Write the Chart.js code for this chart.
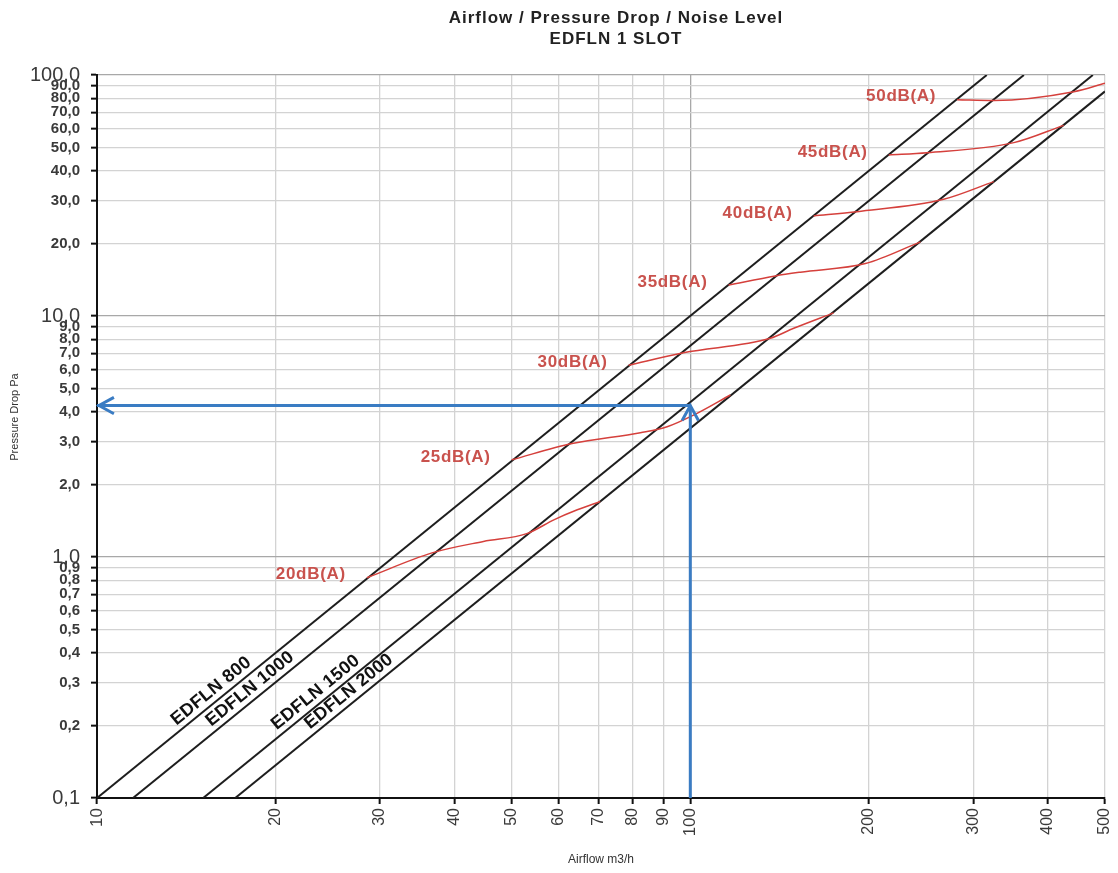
<!DOCTYPE html>
<html>
<head>
<meta charset="utf-8">
<title>Airflow / Pressure Drop / Noise Level</title>
<script src="https://cdn.jsdelivr.net/npm/chart.js@4/dist/chart.umd.min.js"></script>
<style>
    html, body { margin: 0; padding: 0; background: #fff; }
    #wrap { width: 1118px; height: 873px; }
</style>
</head>
<body>
<div id="wrap"><canvas id="chart" width="1118" height="873"></canvas></div>
<script>
// AXIS TICKS
const xTicks = [10, 20, 30, 40, 50, 60, 70, 80, 90, 100, 200, 300, 400, 500];
const yTicks = [0.1, 0.2, 0.3, 0.4, 0.5, 0.6, 0.7, 0.8, 0.9, 1, 2, 3, 4, 5, 6, 7, 8, 9,
                10, 20, 30, 40, 50, 60, 70, 80, 90, 100];

// EDFLN units: straight lines, start / end
const unitNames = ['EDFLN 800', 'EDFLN 1000', 'EDFLN 1500', 'EDFLN 2000'];
const unitFlow = [[10, 316], [11.5, 365], [15.1, 477], [17.1, 500]];
const unitDrop = [[0.1, 100], [0.1, 100], [0.1, 100], [0.1, 85.5]];
const unitLabelAt = [16.0, 18.6, 24.0, 27.3]; // airflow where the name sits

// NOISE CURVES
const noiseNames = ['20dB(A)', '25dB(A)', '30dB(A)', '35dB(A)', '40dB(A)', '45dB(A)', '50dB(A)'];
const noiseFlow = [
    [28.5, 36.7, 44.8, 53.0, 59.0, 64.5, 70.5],
    [50.0, 63.2, 82.4, 91.4, 101.3, 116.8],
    [78.7, 97.4, 136.4, 149.4, 174.4],
    [116.0, 139.1, 153.3, 197.3, 244.3],
    [161.4, 191.0, 267.4, 324.7],
    [216.0, 250.6, 351.0, 426.1],
    [281.7, 324.7, 443.1, 500]
];
const noiseDrop = [
    [0.82, 1.04, 1.16, 1.25, 1.43, 1.57, 1.70],
    [2.53, 2.96, 3.28, 3.47, 3.88, 4.70],
    [6.25, 7.04, 8.08, 8.89, 10.3],
    [13.45, 14.66, 15.2, 16.5, 20.3],
    [26.0, 27.1, 30.5, 36.1],
    [46.6, 47.6, 52.4, 61.8],
    [79.0, 78.4, 85.2, 92.4]
];

// example reading (blue arrows)
const pickFlow = 100;
const pickDrop = 4.25;

const FONT = '"Liberation Sans", Arial, sans-serif';
const RED = '#d5403c';
const BLUE = '#3a7cc3';

const isDecade = v => Math.abs(Math.log10(v) - Math.round(Math.log10(v))) < 1e-6;
const pts = (xs, ys) => xs.map((x, i) => ({ x: x, y: ys[i] }));

const datasets = [];
datasets.push({ data: [{ x: pickFlow, y: 0.1 }, { x: pickFlow, y: pickDrop }], borderColor: BLUE, borderWidth: 3, order: 0, role: 'up' });
datasets.push({ data: [{ x: pickFlow, y: pickDrop }, { x: 10, y: pickDrop }], borderColor: BLUE, borderWidth: 3, order: 0, role: 'left' });
noiseNames.forEach((name, i) => {
    datasets.push({ data: pts(noiseFlow[i], noiseDrop[i]), borderColor: RED, borderWidth: 1.5,
        cubicInterpolationMode: 'monotone', order: 1, role: 'noise', name: name });
});
unitNames.forEach((name, i) => {
    datasets.push({ data: pts(unitFlow[i], unitDrop[i]), borderColor: '#1e1e1e', borderWidth: 2,
        order: 2, role: 'unit', name: name, labelAt: unitLabelAt[i] });
});

function chevron(ctx, x, y, dir, len, half) {
    ctx.beginPath();
    ctx.moveTo(x + len * Math.cos(dir + half), y + len * Math.sin(dir + half));
    ctx.lineTo(x, y);
    ctx.lineTo(x + len * Math.cos(dir - half), y + len * Math.sin(dir - half));
    ctx.stroke();
}

const decorations = {
    id: 'decorations',
    beforeDraw(chart) {
        const ctx = chart.ctx;
        ctx.save();
        ctx.fillStyle = '#fff';
        ctx.fillRect(0, 0, chart.width, chart.height);
        ctx.restore();
    },
    afterDatasetsDraw(chart) {
        const ctx = chart.ctx;
        const xs = chart.scales.x;
        ctx.save();
        chart.data.datasets.forEach((ds, i) => {
            const p = chart.getDatasetMeta(i).data;
            if (ds.role === 'unit') {
                const px = xs.getPixelForValue(ds.labelAt);
                const t = (px - p[0].x) / (p[1].x - p[0].x);
                const py = p[0].y + t * (p[1].y - p[0].y);
                ctx.save();
                ctx.translate(px, py);
                ctx.rotate(Math.atan2(p[1].y - p[0].y, p[1].x - p[0].x));
                ctx.font = 'bold 18px ' + FONT;
                ctx.letterSpacing = '0.3px';
                ctx.fillStyle = '#111';
                ctx.textAlign = 'center';
                ctx.textBaseline = 'bottom';
                ctx.fillText(ds.name, 0, -2);
                ctx.restore();
            } else if (ds.role === 'noise') {
                ctx.font = 'bold 17px ' + FONT;
                ctx.letterSpacing = '0.7px';
                ctx.fillStyle = '#c9524d';
                ctx.textAlign = 'right';
                ctx.textBaseline = 'middle';
                ctx.fillText(ds.name, p[0].x - 21, p[0].y - 3);
            } else if (ds.role === 'up' || ds.role === 'left') {
                ctx.strokeStyle = BLUE;
                ctx.lineWidth = 3;
                const tip = p[1];
                const back = ds.role === 'up' ? Math.PI / 2 : 0; // direction from tip back along shaft
                chevron(ctx, tip.x + (ds.role === 'left' ? 2 : 0), tip.y, back, 17, 0.5);
            }
        });
        ctx.restore();
    },
    afterDraw(chart) {
        const ctx = chart.ctx;
        const a = chart.chartArea;
        const cx = (a.left + a.right) / 2;
        ctx.save();
        ctx.fillStyle = '#222';
        ctx.textAlign = 'center';
        ctx.textBaseline = 'middle';
        ctx.font = 'bold 17px ' + FONT;
        ctx.letterSpacing = '1px';
        ctx.fillText('Airflow / Pressure Drop / Noise Level', cx + 15, 18);
        ctx.fillText('EDFLN 1 SLOT', cx + 15, 39);
        ctx.letterSpacing = '0px';
        ctx.font = '12px ' + FONT;
        ctx.fillStyle = '#333';
        ctx.fillText('Airflow m3/h', cx, 860);
        ctx.translate(15, 417);
        ctx.rotate(-Math.PI / 2);
        ctx.font = '11px ' + FONT;
        ctx.fillText('Pressure Drop Pa', 0, 0);
        ctx.restore();
    }
};

new Chart(document.getElementById('chart'), {
    type: 'line',
    data: { datasets: datasets },
    options: {
        responsive: false,
        animation: false,
        layout: { padding: { top: 75, right: 13, left: 0, bottom: 0 } },
        elements: { point: { radius: 0 }, line: { tension: 0 } },
        plugins: { legend: { display: false }, tooltip: { enabled: false }, title: { display: false } },
        scales: {
            x: {
                type: 'logarithmic',
                min: 10, max: 500,
                afterBuildTicks: s => { s.ticks = xTicks.map(v => ({ value: v })); },
                afterFit: s => { s.height = 75; s.paddingLeft = 0; s.paddingRight = 0; },
                ticks: {
                    autoSkip: false, minRotation: 90, maxRotation: 90, padding: 4,
                    color: '#3a3a3a',
                    font: c => ({ family: FONT, size: isDecade(c.tick.value) ? 17 : 16 }),
                    callback: v => String(v)
                },
                grid: {
                    color: c => (c.tick && isDecade(c.tick.value)) ? '#a8a8a8' : '#d3d3d3',
                    lineWidth: 1.3, tickLength: 6, tickColor: '#111', tickWidth: 2
                },
                border: { color: '#111', width: 2 }
            },
            y: {
                type: 'logarithmic',
                min: 0.1, max: 100,
                afterBuildTicks: s => { s.ticks = yTicks.map(v => ({ value: v })); },
                afterFit: s => { s.width = 97; s.paddingTop = 0; s.paddingBottom = 0; },
                ticks: {
                    autoSkip: false, padding: 11,
                    color: '#3a3a3a',
                    font: c => isDecade(c.tick.value)
                        ? { family: FONT, size: 20 }
                        : { family: FONT, size: 15, weight: 'bold' },
                    callback: v => Number(v).toFixed(1).replace('.', ',')
                },
                grid: {
                    color: c => (c.tick && isDecade(c.tick.value)) ? '#a8a8a8' : '#d3d3d3',
                    lineWidth: 1.3, tickLength: 6, tickColor: '#111', tickWidth: 2
                },
                border: { color: '#111', width: 2 }
            }
        }
    },
    plugins: [decorations]
});
</script>
</body>
</html>
